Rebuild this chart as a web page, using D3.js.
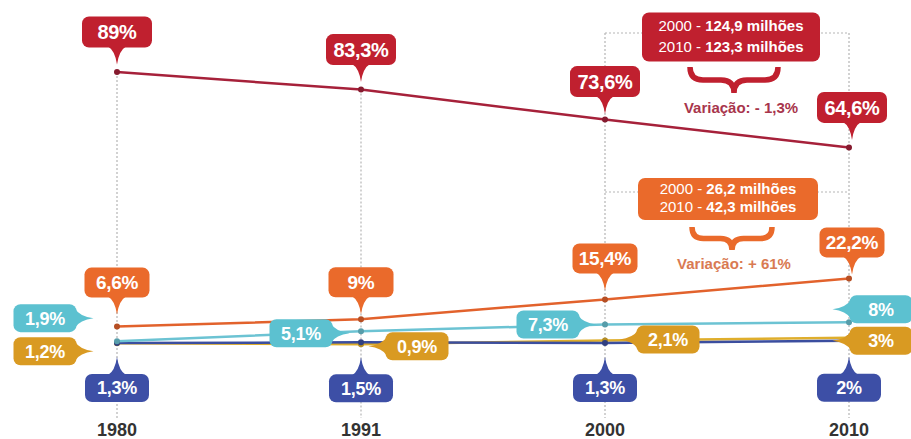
<!DOCTYPE html>
<html>
<head>
<meta charset="utf-8">
<script src="https://cdn.jsdelivr.net/npm/d3@7"></script>
<style>
  body { margin: 0; background: #fff; }
  svg { display: block; font-family: "Liberation Sans", Arial, sans-serif; }
</style>
</head>
<body>
<div id="chart"></div>
<script>
// data
var years = ['1980', '1991', '2000', '2010'];
var catolicos = [89, 83.3, 73.6, 64.6];
var evangelicos = [6.6, 9, 15.4, 22.2];
var semReligiao = [1.9, 5.1, 7.3, 8];
var outras = [1.2, 0.9, 2.1, 3];
var espiritas = [1.3, 1.5, 1.3, 2];
var catolicosMilhoes = ['124,9', '123,3'];
var evangelicosMilhoes = ['26,2', '42,3'];
var variacaoCatolicos = 'Variação: - 1,3%';
var variacaoEvangelicos = 'Variação: + 61%';

(function() {
    var width = 911, height = 439;

    var svg = d3.select('#chart').append('svg')
        .attr('width', width)
        .attr('height', height);

    var x = d3.scalePoint().domain(years).range([117, 849]);
    var y = d3.scaleLinear().domain([0, 89]).range([347, 72]);

    // label placement: offset of the box centre from the point, pointer direction
    var series = [
        { values: outras, line: '#dfae2c', box: '#d99a22', w: 63, h: 28, fs: 18,
          place: [[-72, 8, 'right'], [56, 2, 'left'], [63, -1, 'left'], [32, 3, 'left']] },
        { values: espiritas, line: '#3b4e9f', box: '#3d4fa6', w: 64, h: 28, fs: 18,
          place: [[0, 45, 'up'], [0, 46, 'up'], [0, 45, 'up'], [0, 47, 'up']] },
        { values: semReligiao, line: '#6cc3d3', box: '#5cc1d0', w: 63, h: 28, fs: 18,
          place: [[-72, -23, 'right'], [-60, 2, 'right'], [-57, 0, 'right'], [32, -13, 'left']] },
        { values: evangelicos, line: '#e2622c', box: '#ea6a2b', w: 65, h: 30, fs: 19,
          place: [[0, -44, 'down'], [0, -37, 'down'], [0, -41, 'down'], [3, -36, 'down']] },
        { values: catolicos, line: '#a6213a', box: '#c0202f', w: 70, h: 31, fs: 20,
          place: [[0, -40, 'down'], [0, -40, 'down'], [0, -38, 'down'], [3, -40, 'down']] }
    ];

    var bracketTop = 33, bracketMid = 192;

    // dotted guides
    var guides = svg.append('g')
        .attr('stroke', '#b5b5b5')
        .attr('stroke-width', 1.2)
        .attr('stroke-dasharray', '2,2')
        .attr('fill', 'none');

    guides.selectAll('line.v')
        .data(years)
        .join('line')
        .attr('class', 'v')
        .attr('x1', function(d) { return x(d); })
        .attr('x2', function(d) { return x(d); })
        .attr('y1', function(d, i) { return i >= 2 ? bracketTop : y(catolicos[i]); })
        .attr('y2', 418);

    guides.selectAll('line.h')
        .data([bracketTop, bracketMid])
        .join('line')
        .attr('class', 'h')
        .attr('x1', x('2000'))
        .attr('x2', x('2010'))
        .attr('y1', function(d) { return d; })
        .attr('y2', function(d) { return d; });

    // lines
    var line = d3.line()
        .x(function(d, i) { return x(years[i]); })
        .y(function(d) { return y(d); });

    svg.append('g').selectAll('path')
        .data(series)
        .join('path')
        .attr('d', function(s) { return line(s.values); })
        .attr('fill', 'none')
        .attr('stroke', function(s) { return s.line; })
        .attr('stroke-width', 2.5);

    svg.append('g').selectAll('g')
        .data(series)
        .join('g')
        .attr('fill', function(s) { return d3.color(s.line).darker(0.6); })
        .selectAll('circle')
        .data(function(s) { return s.values; })
        .join('circle')
        .attr('cx', function(d, i) { return x(years[i]); })
        .attr('cy', function(d) { return y(d); })
        .attr('r', 3);

    // annotation boxes (drawn under the value labels)
    function note(o) {
        var g = svg.append('g');
        g.append('rect')
            .attr('x', o.cx - o.w / 2).attr('y', o.cy - o.h / 2)
            .attr('width', o.w).attr('height', o.h)
            .attr('rx', 7).attr('fill', o.fill);
        var t = g.append('text')
            .attr('fill', '#fff')
            .attr('font-size', '15px')
            .attr('text-anchor', 'middle');
        o.milhoes.forEach(function(m, i) {
            var ln = t.append('tspan')
                .attr('x', o.cx)
                .attr('y', o.cy + (i === 0 ? -o.h * 0.13 : o.h * 0.31));
            ln.append('tspan').text(years[i + 2] + ' - ');
            ln.append('tspan').attr('font-weight', 'bold').text(m + ' milhões');
        });
        var bx0 = o.bx - o.bw / 2, bx1 = o.bx + o.bw / 2, by = o.by, r = o.br;
        g.append('path')
            .attr('d', 'M' + bx0 + ',' + by +
                ' Q' + bx0 + ',' + (by + r) + ' ' + (bx0 + r) + ',' + (by + r) +
                ' L' + (o.bx - r) + ',' + (by + r) +
                ' Q' + o.bx + ',' + (by + r) + ' ' + o.bx + ',' + (by + r * 2) +
                ' Q' + o.bx + ',' + (by + r) + ' ' + (o.bx + r) + ',' + (by + r) +
                ' L' + (bx1 - r) + ',' + (by + r) +
                ' Q' + bx1 + ',' + (by + r) + ' ' + bx1 + ',' + by)
            .attr('fill', 'none')
            .attr('stroke', o.fill)
            .attr('stroke-width', 5.5);
        g.append('text')
            .attr('x', o.tx)
            .attr('y', o.ty)
            .attr('dy', '0.35em')
            .attr('text-anchor', 'middle')
            .attr('fill', o.textFill)
            .attr('font-size', '15px')
            .attr('font-weight', 'bold')
            .text(o.variacao);
    }

    note({ cx: 731, cy: 37, w: 178, h: 49, fill: '#c0202f', textFill: '#a8354c',
           milhoes: catolicosMilhoes, variacao: variacaoCatolicos,
           bx: 734, by: 67, bw: 88, br: 13, tx: 741, ty: 108 });
    note({ cx: 728, cy: 199, w: 180, h: 42, fill: '#ea6a2b', textFill: '#d97a52',
           milhoes: evangelicosMilhoes, variacao: variacaoEvangelicos,
           bx: 732, by: 227, bw: 80, br: 11.5, tx: 734, ty: 264 });

    // pin labels
    function pointer(dist, len) {
        return 'M-9,' + (dist - 1) +
            ' Q-2,' + (dist + 3) + ' 0,' + (dist + len) +
            ' Q2,' + (dist + 3) + ' 9,' + (dist - 1) + 'Z';
    }
    var rot = { down: 0, up: 180, right: -90, left: 90 };

    series.forEach(function(s) {
        var lab = svg.append('g').selectAll('g')
            .data(s.values)
            .join('g')
            .attr('transform', function(d, i) {
                return 'translate(' + (x(years[i]) + s.place[i][0]) + ',' + (y(d) + s.place[i][1]) + ')';
            });

        lab.append('path')
            .attr('d', function(d, i) {
                var dir = s.place[i][2];
                var dist = (dir === 'down' || dir === 'up') ? s.h / 2 : s.w / 2;
                return pointer(dist, 17);
            })
            .attr('transform', function(d, i) { return 'rotate(' + rot[s.place[i][2]] + ')'; })
            .attr('fill', s.box);

        lab.append('rect')
            .attr('x', -s.w / 2).attr('y', -s.h / 2)
            .attr('width', s.w).attr('height', s.h)
            .attr('rx', 7)
            .attr('fill', s.box);

        lab.append('text')
            .attr('text-anchor', 'middle')
            .attr('dy', '0.36em')
            .attr('fill', '#fff')
            .attr('font-size', s.fs + 'px')
            .attr('font-weight', 'bold')
            .attr('letter-spacing', '-0.3px')
            .text(function(d) { return String(d).replace('.', ',') + '%'; });
    });

    // year labels
    svg.append('g').selectAll('text')
        .data(years)
        .join('text')
        .attr('x', function(d) { return x(d); })
        .attr('y', 436)
        .attr('text-anchor', 'middle')
        .attr('fill', '#333')
        .attr('font-size', '18px')
        .attr('font-weight', 'bold')
        .text(function(d) { return d; });
})();
</script>
</body>
</html>
